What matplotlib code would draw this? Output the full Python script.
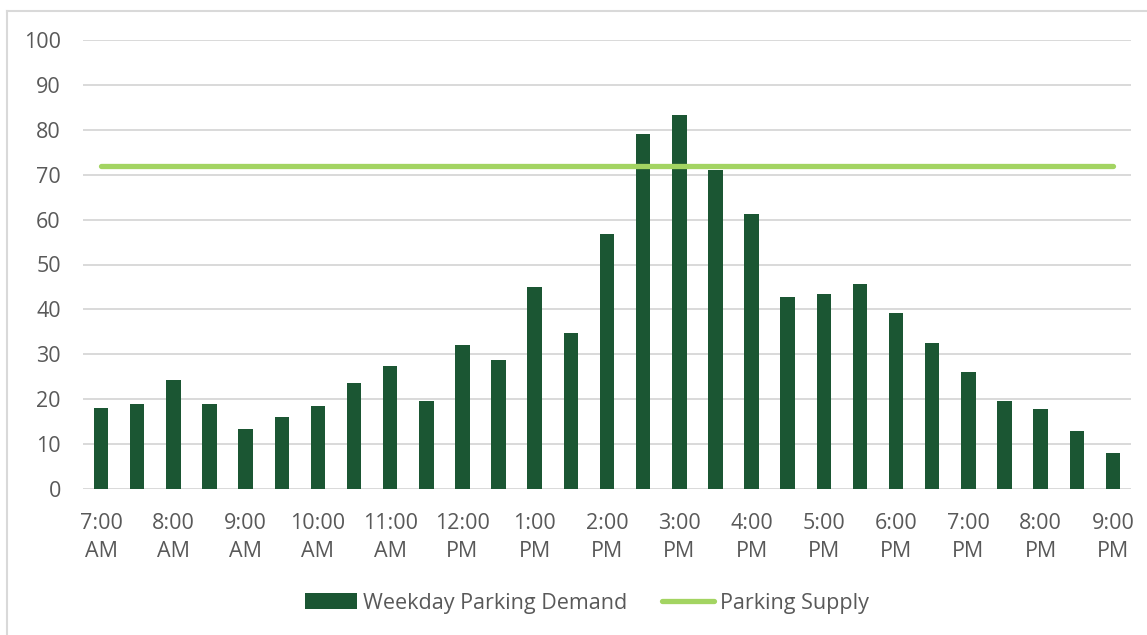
import matplotlib
matplotlib.use("Agg")
import matplotlib.pyplot as plt
from matplotlib.lines import Line2D
import numpy as np

# half-hour slots, 7:00 AM .. 9:00 PM
hour_labels = ["7:00\nAM", "8:00\nAM", "9:00\nAM", "10:00\nAM", "11:00\nAM",
               "12:00\nPM", "1:00\nPM", "2:00\nPM", "3:00\nPM", "4:00\nPM",
               "5:00\nPM", "6:00\nPM", "7:00\nPM", "8:00\nPM", "9:00\nPM"]
demand = [18.0, 18.9, 24.3, 18.9, 13.4, 16.0, 18.4, 23.5, 27.5, 19.7,
          32.0, 28.7, 45.0, 34.8, 56.9, 79.1, 83.2, 71.0, 61.2, 42.7,
          43.5, 45.7, 39.1, 32.6, 26.1, 19.5, 17.9, 13.0, 8.1]
supply = [72] * len(demand)

bar_color = "#1B5633"
line_color = "#A3D462"
text_color = "#595959"
grid_color = "#D9D9D9"

plt.rcParams['font.family'] = ['Open Sans', 'DejaVu Sans']

W, H = 1147, 635
fig = plt.figure(figsize=(W / 100, H / 100), dpi=100)

# light frame of the chart area (cropped at right/bottom)
fig.add_artist(Line2D([7 / W, 1], [1 - 11 / H, 1 - 11 / H], transform=fig.transFigure,
                      color=grid_color, lw=1.5))
fig.add_artist(Line2D([7 / W, 7 / W], [0, 1 - 11 / H], transform=fig.transFigure,
                      color=grid_color, lw=1.5))

ax = fig.add_axes([83 / W, 1 - 489 / H, 1048 / W, 449 / H])
x = np.arange(len(demand))

bars = ax.bar(x, demand, width=0.4, color=bar_color, zorder=2,
              label="Weekday Parking Demand")
line, = ax.plot(x, supply, color=line_color, lw=3.8, solid_capstyle='round', zorder=3,
                label="Parking Supply")

ax.set_xlim(-0.5, len(demand) - 0.5)
ax.set_ylim(0, 100)
ax.set_yticks(range(0, 101, 10))
ax.set_xticks(x[::2])
ax.set_xticklabels(hour_labels, linespacing=1.45)
ax.tick_params(axis='both', length=0, labelsize=15.5, labelcolor=text_color)
ax.tick_params(axis='x', pad=17)
ax.tick_params(axis='y', pad=16)
ax.grid(axis='y', color=grid_color, lw=1.4, zorder=0)
ax.set_axisbelow(True)
for s in ax.spines.values():
    s.set_visible(False)

fig.legend(handles=[bars, line], loc='center', bbox_to_anchor=(587 / W, 1 - 603 / H),
           ncol=2, frameon=False, fontsize=15.5, labelcolor=text_color,
           handlelength=2.4, handletextpad=0.3, columnspacing=1.6)

fig.savefig("out.png", dpi=100)
